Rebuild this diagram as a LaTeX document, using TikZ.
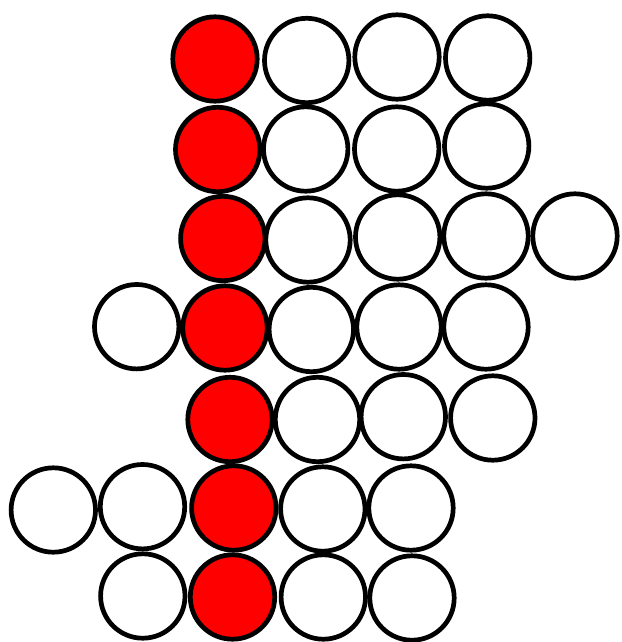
\documentclass[tikz,border=0pt]{standalone}
\begin{document}
\begin{tikzpicture}[x=1pt,y=-1pt,
  ball/.style={circle,draw=black,line width=4.7pt,inner sep=0pt,minimum size=84.4pt,fill=white},
  redball/.style={ball,fill=red}]
\useasboundingbox[fill=white] (0,0) rectangle (621,642);
% row 1
\node[redball] (r1c1) at (215,59) {};
\node[ball] (r1c2) at (306.7,60.5) {};
\node[ball] (r1c3) at (397,57) {};
\node[ball] (r1c4) at (487.7,58) {};
% row 2
\node[redball] (r2c1) at (217.7,149.5) {};
\node[ball] (r2c2) at (305.7,149) {};
\node[ball] (r2c3) at (396.7,149) {};
\node[ball] (r2c4) at (486.7,146) {};
% row 3
\node[redball] (r3c1) at (222.8,238.5) {};
\node[ball] (r3c2) at (308,240) {};
\node[ball] (r3c3) at (397.7,237) {};
\node[ball] (r3c4) at (486,236) {};
\node[ball] (r3c5) at (575,236) {};
% row 4
\node[ball] (r4c0) at (136.7,326.7) {};
\node[redball] (r4c1) at (225,328) {};
\node[ball] (r4c2) at (311.3,329.5) {};
\node[ball] (r4c3) at (399,327) {};
\node[ball] (r4c4) at (486,327) {};
% row 5
\node[redball] (r5c1) at (230,419.5) {};
\node[ball] (r5c2) at (317.5,419.5) {};
\node[ball] (r5c3) at (403.3,416.7) {};
\node[ball] (r5c4) at (492.8,418) {};
% row 6
\node[ball] (r6cm) at (53.3,510) {};
\node[ball] (r6c0) at (142.5,506.7) {};
\node[redball] (r6c1) at (233.8,508) {};
\node[ball] (r6c2) at (322.8,509) {};
\node[ball] (r6c3) at (411,508) {};
% row 7
\node[ball] (r7c0) at (142.8,596) {};
\node[redball] (r7c1) at (232.5,597) {};
\node[ball] (r7c2) at (323.3,597) {};
\node[ball] (r7c3) at (412,598) {};
\end{tikzpicture}
\end{document}
